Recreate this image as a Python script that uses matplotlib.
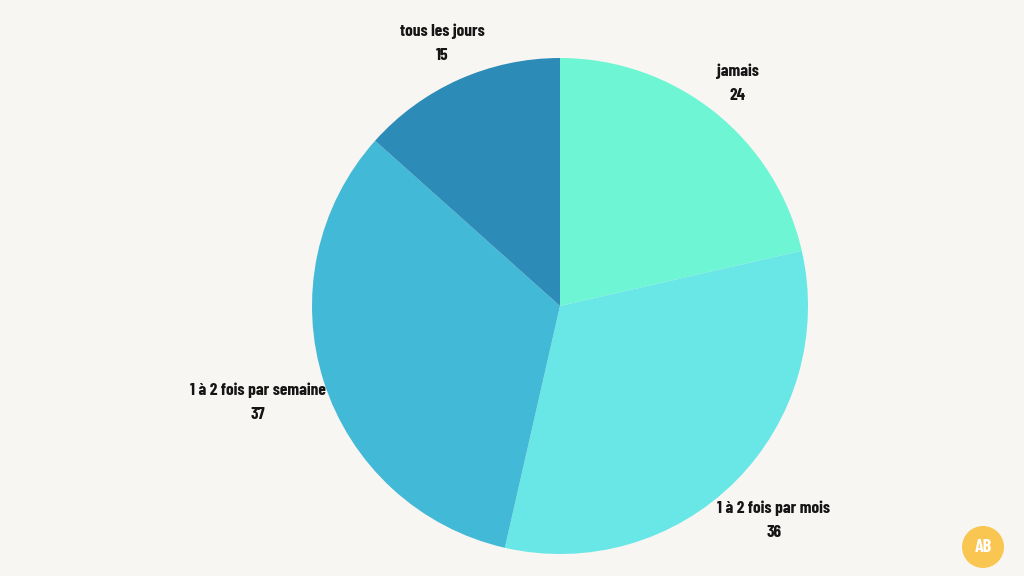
import numpy as np
import matplotlib.pyplot as plt
from matplotlib.patches import Ellipse

# data
categories = ["jamais", "1 à 2 fois par mois", "1 à 2 fois par semaine", "tous les jours"]
values = [24, 36, 37, 15]
colors = ["#6DF5D4", "#69E6E6", "#42B9D6", "#2D8BB8"]

BG = "#F8F6F3"
FONT = ["Barlow Condensed", "Archivo Narrow", "DejaVu Sans"]
label_dist = [1.15, 1.22, 1.28, 1.16]

W, H = 1024, 576
fig = plt.figure(figsize=(W / 100, H / 100), dpi=100, facecolor=BG)

cx, cy, r = 560, 306, 248
ax = fig.add_axes([(cx - r) / W, 1 - (cy + r) / H, 2 * r / W, 2 * r / H])
ax.set_facecolor(BG)
wedges, _ = ax.pie(values, colors=colors, startangle=90, counterclock=False,
                   radius=1, wedgeprops={"linewidth": 0})
ax.set_xlim(-1, 1)
ax.set_ylim(-1, 1)
ax.set_aspect("equal")
ax.axis("off")

for w, cat, val, d in zip(wedges, categories, values, label_dist):
    ang = np.deg2rad((w.theta1 + w.theta2) / 2)
    ax.text(d * np.cos(ang), d * np.sin(ang), f"{cat}\n{val}",
            ha="center", va="center", fontsize=12.5, fontweight="bold",
            family=FONT, color="#151515", linespacing=1.72, clip_on=False)

# logo bottom right
lx, ly, lr = 983, 547, 21
fig.patches.append(Ellipse((lx / W, 1 - ly / H), 2 * lr / W, 2 * lr / H,
                           transform=fig.transFigure,
                           facecolor="#F8C651", edgecolor="none"))
fig.text(lx / W, 1 - ly / H, "AB", ha="center", va="center",
         color="white", fontsize=13, fontweight="bold", family=FONT)

fig.savefig("out.png", dpi=100, facecolor=BG)
